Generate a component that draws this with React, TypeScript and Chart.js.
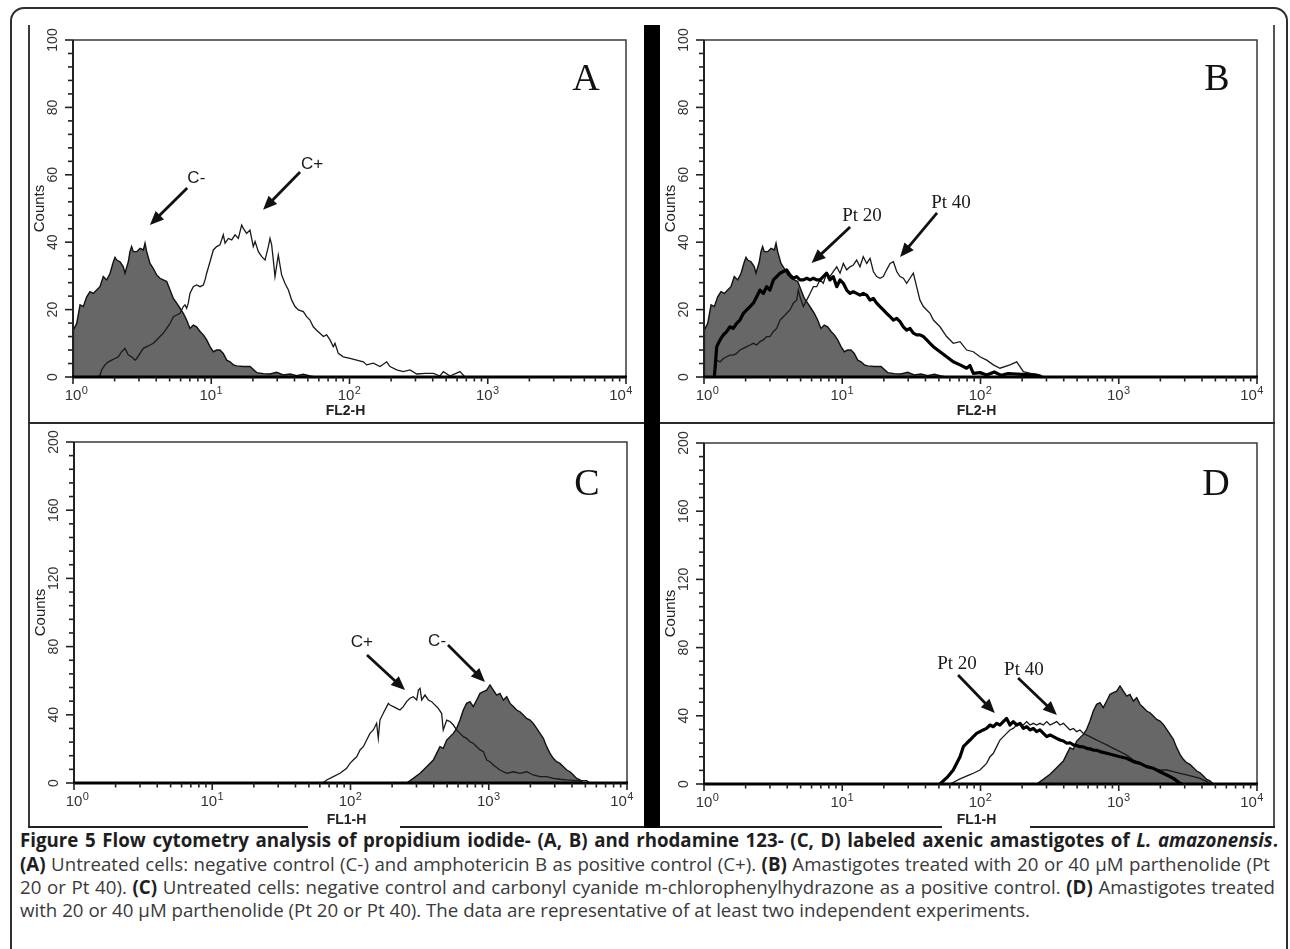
import React, { useEffect, useRef } from "react";
import { Chart, registerables } from "chart.js";
Chart.register(...registerables);

document.body.style.margin = "0";
document.body.style.overflow = "hidden";

// ---------- axis ticks ----------
const X_DECADE_EXPONENTS = [0, 1, 2, 3, 4];
const Y_TICKS_PI = [0, 20, 40, 60, 80, 100];
const Y_TICKS_RH = [0, 40, 80, 120, 160, 200];

// ---------- series: [log10(fluorescence), counts] ----------
// Propidium iodide (FL2-H)
const piNegative: [number, number][] = [
  [0.0, 0], [0.003, 14], [0.027, 15.9], [0.051, 21.4], [0.075, 20.9], [0.099, 23.8], [0.123, 25.3], [0.147, 24.8],
  [0.171, 25.8], [0.195, 26.8], [0.219, 29.8], [0.244, 28.8], [0.268, 30.8], [0.292, 34.2], [0.304, 35.5], [0.316, 34.7],
  [0.34, 34.2], [0.364, 32.7], [0.376, 30.8], [0.4, 34.2], [0.412, 37.2], [0.424, 38.7], [0.436, 37.2], [0.461, 37.2],
  [0.485, 38.2], [0.509, 37.7], [0.521, 39.7], [0.533, 37.2], [0.557, 33.7], [0.581, 32.2], [0.605, 30.3], [0.629, 29.3],
  [0.653, 28.8], [0.678, 28.3], [0.702, 25.8], [0.726, 23.3], [0.75, 21.9], [0.774, 20.4], [0.798, 18.9], [0.822, 16.9],
  [0.846, 14.4], [0.87, 15.4], [0.894, 14.9], [0.919, 13.5], [0.943, 12.5], [0.967, 11.0], [0.991, 9.0], [1.015, 7.5],
  [1.039, 8.0], [1.063, 8.0], [1.087, 7.0], [1.112, 5.0], [1.136, 4.5], [1.16, 3.6], [1.184, 3.3], [1.232, 3.1],
  [1.28, 3.1], [1.329, 1.3], [1.377, 1.0], [1.425, 0.9], [1.473, 1.4], [1.521, 0.6], [1.57, 0.9], [1.618, 0.4],
  [1.666, 0.8], [1.714, 0.3], [1.75, 0],
];
const piAmphotericin: [number, number][] = [
  [0.18, 0], [0.195, 0.5], [0.207, 2.1], [0.231, 3.6], [0.256, 4.5], [0.28, 5.0], [0.304, 5.5], [0.328, 6.0],
  [0.352, 7.5], [0.376, 8.5], [0.4, 6.5], [0.424, 6.0], [0.449, 5.0], [0.461, 5.5], [0.485, 7.0], [0.509, 8.5],
  [0.533, 9.0], [0.557, 9.5], [0.581, 10.0], [0.605, 11.0], [0.629, 12.0], [0.653, 13.0], [0.678, 14.4], [0.702, 15.9],
  [0.726, 17.9], [0.75, 18.4], [0.774, 18.9], [0.798, 20.9], [0.81, 21.4], [0.822, 20.4], [0.834, 21.9], [0.846, 24.8],
  [0.87, 26.8], [0.894, 27.3], [0.919, 26.8], [0.943, 27.3], [0.955, 28.8], [0.967, 30.8], [0.991, 34.2], [1.015, 37.7],
  [1.039, 38.7], [1.063, 39.2], [1.087, 42.2], [1.1, 39.7], [1.124, 41.1], [1.148, 40.7], [1.172, 42.2], [1.196, 41.1],
  [1.22, 45.1], [1.232, 44.1], [1.256, 42.6], [1.28, 43.6], [1.304, 38.7], [1.317, 40.2], [1.341, 37.2], [1.365, 35.7],
  [1.389, 34.7], [1.413, 38.7], [1.425, 41.1], [1.437, 39.2], [1.449, 34.7], [1.461, 29.8], [1.485, 36.2], [1.509, 30.3],
  [1.533, 27.8], [1.558, 25.8], [1.582, 22.8], [1.606, 20.9], [1.63, 19.9], [1.666, 19.4], [1.69, 17.9], [1.714, 16.9],
  [1.738, 14.9], [1.762, 13.9], [1.786, 13.0], [1.811, 12.0], [1.835, 12.5], [1.859, 11.0], [1.883, 9.0], [1.895, 10.0],
  [1.919, 7.0], [1.955, 6.0], [2.004, 5.5], [2.052, 5.0], [2.1, 4.5], [2.124, 3.6], [2.172, 4.1], [2.221, 3.1],
  [2.269, 4.5], [2.293, 3.1], [2.341, 2.1], [2.389, 1.6], [2.438, 2.1], [2.486, 0.9], [2.55, 1.1], [2.607, 1.1],
  [2.654, 0.3], [2.679, 1.6], [2.727, 0.3], [2.799, 1.6], [2.835, 0],
];
const piPt20: [number, number][] = [
  [0.075, 0], [0.092, 9.0], [0.116, 11.0], [0.14, 12.5], [0.164, 13.5], [0.188, 14.9], [0.212, 14.4], [0.236, 15.9],
  [0.26, 16.9], [0.285, 18.9], [0.309, 19.9], [0.333, 20.9], [0.357, 21.9], [0.381, 23.8], [0.405, 25.8], [0.429, 24.8],
  [0.453, 26.8], [0.477, 25.8], [0.502, 28.8], [0.526, 29.8], [0.55, 30.8], [0.574, 31.3], [0.598, 31.8], [0.622, 30.3],
  [0.646, 29.3], [0.67, 29.8], [0.694, 28.8], [0.719, 28.8], [0.743, 29.3], [0.767, 28.8], [0.791, 29.3], [0.815, 28.8],
  [0.839, 28.8], [0.863, 29.8], [0.887, 30.8], [0.911, 28.8], [0.935, 29.8], [0.96, 26.8], [0.984, 28.8], [1.008, 27.8],
  [1.032, 25.8], [1.056, 24.8], [1.08, 25.3], [1.104, 24.8], [1.128, 24.3], [1.152, 24.8], [1.177, 24.3], [1.201, 22.8],
  [1.225, 23.3], [1.249, 21.9], [1.273, 20.9], [1.297, 19.9], [1.321, 18.9], [1.346, 17.9], [1.37, 16.9], [1.394, 17.4],
  [1.418, 16.4], [1.442, 14.9], [1.466, 13.9], [1.49, 14.4], [1.514, 13.0], [1.538, 12.5], [1.562, 12.5], [1.587, 12.0],
  [1.611, 11.0], [1.635, 10.0], [1.659, 9.0], [1.707, 7.5], [1.755, 6.0], [1.803, 4.5], [1.852, 3.6], [1.9, 2.6],
  [1.924, 3.4], [1.948, 1.1], [1.996, 1.3], [2.045, 0.6], [2.1, 1.5], [2.15, 0.5], [2.2, 1.0], [2.3, 0.8],
  [2.4, 0.6], [2.43, 0],
];
const piPt40: [number, number][] = [
  [0.075, 0], [0.092, 5.0], [0.116, 4.5], [0.14, 5.5], [0.164, 6.0], [0.188, 6.5], [0.212, 6.5], [0.236, 7.0],
  [0.26, 8.0], [0.285, 8.5], [0.309, 9.0], [0.333, 9.5], [0.357, 10.0], [0.381, 9.5], [0.405, 10.5], [0.429, 11.0],
  [0.453, 12.0], [0.477, 12.0], [0.502, 13.5], [0.526, 14.4], [0.55, 16.9], [0.574, 17.9], [0.598, 18.9], [0.622, 19.9],
  [0.646, 21.9], [0.67, 22.8], [0.682, 25.8], [0.694, 23.8], [0.719, 20.9], [0.743, 22.8], [0.767, 24.8], [0.791, 26.8],
  [0.815, 26.8], [0.839, 28.8], [0.863, 27.8], [0.887, 30.8], [0.911, 29.8], [0.935, 31.3], [0.96, 32.7], [0.984, 30.8],
  [1.008, 33.7], [1.032, 31.8], [1.056, 32.7], [1.08, 33.2], [1.104, 34.7], [1.128, 32.7], [1.152, 35.7], [1.177, 33.7],
  [1.201, 35.2], [1.225, 31.3], [1.249, 29.8], [1.273, 29.3], [1.297, 29.8], [1.321, 31.8], [1.346, 33.7], [1.37, 34.2],
  [1.394, 31.3], [1.418, 29.8], [1.442, 29.3], [1.466, 27.8], [1.49, 29.3], [1.514, 30.8], [1.538, 26.8], [1.562, 22.8],
  [1.587, 20.9], [1.611, 19.9], [1.635, 18.9], [1.659, 16.9], [1.707, 14.9], [1.755, 12.0], [1.803, 10.0], [1.852, 10.5],
  [1.9, 8.0], [1.948, 7.5], [1.996, 6.0], [2.045, 5.0], [2.093, 3.6], [2.141, 2.6], [2.213, 3.6], [2.262, 4.5],
  [2.31, 1.6], [2.37, 1.0], [2.43, 0.6], [2.46, 0],
];

// Rhodamine 123 (FL1-H)
const rhNegative: [number, number][] = [
  [2.406, 0], [2.454, 2.7], [2.503, 5.7], [2.551, 9.6], [2.599, 13.5], [2.623, 17.4], [2.647, 21.3], [2.671, 20.3],
  [2.696, 25.2], [2.72, 27.2], [2.744, 29.1], [2.768, 32.1], [2.792, 36.9], [2.816, 42.8], [2.84, 46.7], [2.864, 47.7],
  [2.888, 44.8], [2.913, 48.7], [2.937, 52.6], [2.961, 53.6], [2.985, 54.5], [3.009, 57.5], [3.033, 54.5], [3.057, 51.6],
  [3.081, 52.6], [3.106, 48.7], [3.13, 50.6], [3.154, 46.7], [3.178, 44.8], [3.202, 42.8], [3.226, 41.8], [3.25, 39.9],
  [3.274, 37.9], [3.299, 36.9], [3.322, 35.0], [3.347, 32.1], [3.371, 29.1], [3.395, 26.2], [3.419, 21.3], [3.443, 17.4],
  [3.467, 14.5], [3.491, 12.5], [3.515, 11.5], [3.54, 9.6], [3.564, 7.6], [3.588, 6.6], [3.612, 4.7], [3.636, 2.7],
  [3.66, 1.8], [3.685, 0],
];
const rhCccp: [number, number][] = [
  [1.8, 0], [1.828, 1.8], [1.876, 3.7], [1.924, 5.7], [1.972, 8.6], [1.996, 11.5], [2.02, 13.5], [2.045, 15.4],
  [2.069, 19.4], [2.093, 21.3], [2.117, 25.2], [2.141, 29.1], [2.165, 31.1], [2.189, 35.0], [2.201, 26.2], [2.213, 36.9],
  [2.237, 40.9], [2.262, 44.8], [2.274, 46.7], [2.286, 45.7], [2.31, 44.8], [2.334, 43.8], [2.358, 42.8], [2.382, 44.8],
  [2.406, 47.7], [2.43, 49.7], [2.454, 50.6], [2.479, 48.7], [2.491, 54.5], [2.503, 55.5], [2.515, 48.7], [2.539, 51.6],
  [2.563, 48.7], [2.587, 47.7], [2.611, 45.7], [2.635, 43.8], [2.659, 40.9], [2.671, 31.1], [2.696, 36.9], [2.72, 36.0],
  [2.744, 34.0], [2.768, 31.1], [2.792, 29.1], [2.816, 27.2], [2.84, 26.2], [2.864, 24.2], [2.888, 23.3], [2.913, 21.3],
  [2.937, 19.4], [2.961, 18.4], [2.985, 13.5], [3.009, 12.5], [3.033, 10.6], [3.081, 7.6], [3.13, 5.7], [3.178, 6.6],
  [3.226, 5.7], [3.274, 6.6], [3.322, 4.7], [3.371, 3.7], [3.419, 3.7], [3.467, 2.7], [3.515, 2.2], [3.564, 1.8],
  [3.636, 1.4], [3.708, 1.4], [3.732, 0],
];
const rhPt20: [number, number][] = [
  [1.707, 0], [1.76, 4.0], [1.803, 8.2], [1.852, 16.0], [1.876, 21.9], [1.9, 23.9], [1.924, 25.8], [1.948, 27.8],
  [1.972, 29.7], [1.996, 30.7], [2.02, 31.7], [2.044, 32.6], [2.069, 34.6], [2.093, 33.6], [2.117, 35.6], [2.141, 34.6],
  [2.165, 36.6], [2.189, 38.5], [2.213, 34.6], [2.237, 36.6], [2.262, 34.6], [2.286, 35.6], [2.31, 32.6], [2.334, 33.6],
  [2.358, 31.7], [2.382, 32.6], [2.406, 30.7], [2.43, 31.7], [2.455, 29.7], [2.479, 27.8], [2.503, 28.7], [2.527, 27.8],
  [2.551, 26.8], [2.575, 25.8], [2.6, 25.2], [2.624, 23.9], [2.648, 24.2], [2.672, 22.9], [2.696, 22.6], [2.72, 21.9],
  [2.744, 21.8], [2.768, 20.9], [2.792, 20.6], [2.816, 19.9], [2.84, 19.8], [2.865, 19.0], [2.913, 18.0], [2.961, 17.0],
  [3.009, 16.0], [3.057, 15.1], [3.106, 13.1], [3.154, 12.1], [3.202, 10.2], [3.25, 9.2], [3.299, 7.2], [3.347, 5.3],
  [3.395, 3.3], [3.443, 0.4], [3.46, 0],
];
const rhPt40: [number, number][] = [
  [1.78, 0], [1.852, 3.0], [1.924, 5.5], [1.948, 6.3], [1.996, 8.2], [2.044, 12.1], [2.069, 16.0], [2.093, 18.0],
  [2.117, 21.9], [2.141, 25.8], [2.165, 27.8], [2.189, 29.7], [2.213, 31.7], [2.237, 32.6], [2.262, 34.6], [2.286, 35.6],
  [2.31, 34.6], [2.334, 36.6], [2.358, 34.6], [2.382, 35.6], [2.406, 34.6], [2.43, 35.6], [2.455, 34.6], [2.479, 36.6],
  [2.503, 34.6], [2.527, 35.6], [2.551, 36.6], [2.575, 34.6], [2.6, 35.6], [2.624, 33.6], [2.648, 31.7], [2.672, 32.6],
  [2.696, 30.7], [2.72, 31.7], [2.744, 29.7], [2.768, 28.7], [2.792, 27.8], [2.816, 26.8], [2.865, 24.8], [2.913, 22.9],
  [2.961, 20.9], [3.009, 19.0], [3.057, 17.0], [3.106, 14.1], [3.154, 12.1], [3.202, 10.2], [3.25, 9.2], [3.299, 8.2],
  [3.347, 8.2], [3.395, 7.2], [3.443, 6.3], [3.492, 5.3], [3.54, 4.3], [3.588, 3.3], [3.636, 1.4], [3.661, 0],
];

// ---------- panel specs ----------
type SeriesStyle = "fill" | "thin" | "thick";
interface Label { text: string; x: number; y: number; serif: boolean; size: number }
interface ArrowSpec { from: [number, number]; to: [number, number] }
interface PanelSpec {
  letter: string; letterAt: [number, number];
  left: number; top: number; width: number; height: number;
  padding: { left: number; top: number; right: number; bottom: number };
  yTicks: number[]; yMax: number;
  xLabel: string; xLabelDy: number;
  series: { points: [number, number][]; style: SeriesStyle }[];
  labels: Label[]; arrows: ArrowSpec[];
}

const PANELS: PanelSpec[] = [
  {
    letter: "A", letterAt: [5140, 89],
    left: 31, top: 27, width: 612, height: 395,
    padding: { left: 42, top: 13, right: 17, bottom: 45 },
    yTicks: Y_TICKS_PI, yMax: 100, xLabel: "FL2-H", xLabelDy: 34,
    series: [
      { points: piAmphotericin, style: "thin" },
      { points: piNegative, style: "fill" },
    ],
    labels: [
      { text: "C-", x: 7.8, y: 59.3, serif: false, size: 17 },
      { text: "C+", x: 53.6, y: 63.5, serif: false, size: 17 },
    ],
    arrows: [
      { from: [6.7, 56.1], to: [3.6, 45.1] },
      { from: [43.9, 60.8], to: [23.7, 49.6] },
    ],
  },
  {
    letter: "B", letterAt: [5140, 89],
    left: 660, top: 27, width: 613, height: 395,
    padding: { left: 44, top: 13, right: 16, bottom: 45 },
    yTicks: Y_TICKS_PI, yMax: 100, xLabel: "FL2-H", xLabelDy: 34,
    series: [
      { points: piPt20, style: "thick" },
      { points: piPt40, style: "thin" },
      { points: piNegative, style: "fill" },
    ],
    labels: [
      { text: "Pt 20", x: 13.9, y: 48.1, serif: true, size: 19 },
      { text: "Pt 40", x: 61.2, y: 51.9, serif: true, size: 19 },
    ],
    arrows: [
      { from: [11.4, 44.5], to: [6.0, 33.8] },
      { from: [48.5, 48.7], to: [26.2, 35.6] },
    ],
  },
  {
    letter: "C", letterAt: [5140, 176.5],
    left: 31, top: 424, width: 612, height: 402,
    padding: { left: 43, top: 18, right: 16, bottom: 43 },
    yTicks: Y_TICKS_RH, yMax: 200, xLabel: "FL1-H", xLabelDy: 37,
    series: [
      { points: rhCccp, style: "thin" },
      { points: rhNegative, style: "fill" },
    ],
    labels: [
      { text: "C+", x: 121, y: 83.3, serif: false, size: 17 },
      { text: "C-", x: 423, y: 83.9, serif: false, size: 17 },
    ],
    arrows: [
      { from: [131.6, 75.1], to: [248, 54.5] },
      { from: [507, 80.9], to: [939, 59.2] },
    ],
  },
  {
    letter: "D", letterAt: [5050, 177],
    left: 660, top: 424, width: 613, height: 402,
    padding: { left: 44, top: 19, right: 16, bottom: 42 },
    yTicks: Y_TICKS_RH, yMax: 200, xLabel: "FL1-H", xLabelDy: 36,
    series: [
      { points: rhPt20, style: "thick" },
      { points: rhPt40, style: "thin" },
      { points: rhNegative, style: "fill" },
    ],
    labels: [
      { text: "Pt 20", x: 67.6, y: 71.0, serif: true, size: 19 },
      { text: "Pt 40", x: 206, y: 67.4, serif: true, size: 19 },
    ],
    arrows: [
      { from: [68.8, 63.9], to: [127, 41.6] },
      { from: [187, 62.2], to: [357, 40.5] },
    ],
  },
];

const SANS = "'Liberation Sans', Arial, sans-serif";
const SERIF = "'Liberation Serif', 'Times New Roman', serif";

function makeDecor(spec: PanelSpec) {
  return {
    id: "decor" + spec.letter,
    afterDatasetsDraw(chart: any) {
      const { ctx, chartArea } = chart;
      const { left, right, top, bottom } = chartArea;
      const xs = chart.scales.x;
      const ys = chart.scales.y;
      ctx.save();

      // frame top / right
      ctx.strokeStyle = "#3a3a3a";
      ctx.lineWidth = 1.5;
      ctx.beginPath();
      ctx.moveTo(left, top);
      ctx.lineTo(right, top);
      ctx.lineTo(right, bottom);
      ctx.stroke();

      // left axis
      ctx.strokeStyle = "#222";
      ctx.lineWidth = 2;
      ctx.beginPath();
      ctx.moveTo(left, top);
      ctx.lineTo(left, bottom);
      ctx.stroke();

      // y ticks (major + 4 minor between)
      const step = spec.yTicks[1] - spec.yTicks[0];
      ctx.lineWidth = 1.6;
      for (let i = 0; i < spec.yTicks.length; i++) {
        const v = spec.yTicks[i];
        const py = ys.getPixelForValue(v);
        ctx.beginPath();
        ctx.moveTo(left - 8, py);
        ctx.lineTo(left, py);
        ctx.stroke();
        if (i < spec.yTicks.length - 1) {
          for (let k = 1; k < 5; k++) {
            const pm = ys.getPixelForValue(v + (step * k) / 5);
            ctx.beginPath();
            ctx.moveTo(left - 5, pm);
            ctx.lineTo(left, pm);
            ctx.stroke();
          }
        }
      }
      // y tick labels (rotated)
      ctx.fillStyle = "#333";
      ctx.font = `14px ${SANS}`;
      ctx.textAlign = "center";
      ctx.textBaseline = "middle";
      for (const v of spec.yTicks) {
        const py = ys.getPixelForValue(v);
        ctx.save();
        ctx.translate(left - 20, py);
        ctx.rotate(-Math.PI / 2);
        ctx.fillText(String(v), 0, 0);
        ctx.restore();
      }

      // bottom axis
      ctx.strokeStyle = "#000";
      ctx.lineWidth = 3;
      ctx.beginPath();
      ctx.moveTo(left - 1, bottom);
      ctx.lineTo(right + 1, bottom);
      ctx.stroke();

      // x ticks
      ctx.strokeStyle = "#222";
      ctx.lineWidth = 1.6;
      for (const e of X_DECADE_EXPONENTS) {
        const base = Math.pow(10, e);
        const px = xs.getPixelForValue(base);
        ctx.beginPath();
        ctx.moveTo(px, bottom);
        ctx.lineTo(px, bottom + 7);
        ctx.stroke();
        if (e < 4) {
          for (let k = 2; k <= 9; k++) {
            const pm = xs.getPixelForValue(k * base);
            ctx.beginPath();
            ctx.moveTo(pm, bottom);
            ctx.lineTo(pm, bottom + 4.5);
            ctx.stroke();
          }
        }
      }
      // x tick labels 10^n
      ctx.fillStyle = "#333";
      ctx.textBaseline = "alphabetic";
      for (const e of X_DECADE_EXPONENTS) {
        const px = xs.getPixelForValue(Math.pow(10, e));
        const shift = e === 0 ? 0 : e === 4 ? -8.5 : -3.5;
        const cx = px + shift;
        ctx.font = `15px ${SANS}`;
        ctx.textAlign = "center";
        ctx.fillText("10", cx, bottom + 23);
        const w = ctx.measureText("10").width;
        ctx.font = `11px ${SANS}`;
        ctx.textAlign = "left";
        ctx.fillText(String(e), cx + w / 2 + 0.5, bottom + 17);
      }

      // axis titles
      ctx.fillStyle = "#222";
      ctx.font = `15px ${SANS}`;
      ctx.textAlign = "center";
      ctx.textBaseline = "middle";
      ctx.save();
      ctx.translate(left - 33, (top + bottom) / 2);
      ctx.rotate(-Math.PI / 2);
      ctx.fillText("Counts", 0, 0);
      ctx.restore();
      ctx.font = `bold 14px ${SANS}`;
      ctx.fillText(spec.xLabel, (left + right) / 2 - 4, bottom + spec.xLabelDy);

      // panel letter
      ctx.fillStyle = "#111";
      ctx.font = `38px ${SERIF}`;
      ctx.textBaseline = "alphabetic";
      ctx.fillText(
        spec.letter,
        xs.getPixelForValue(spec.letterAt[0]),
        ys.getPixelForValue(spec.letterAt[1]) + 38 * 0.33
      );

      // labels
      for (const lb of spec.labels) {
        ctx.font = `${lb.size}px ${lb.serif ? SERIF : SANS}`;
        ctx.fillStyle = "#1a1a1a";
        const capHalf = lb.size * (lb.serif ? 0.33 : 0.36);
        ctx.fillText(lb.text, xs.getPixelForValue(lb.x), ys.getPixelForValue(lb.y) + capHalf);
      }

      // arrows
      ctx.strokeStyle = "#111";
      ctx.fillStyle = "#111";
      for (const a of spec.arrows) {
        const x1 = xs.getPixelForValue(a.from[0]);
        const y1 = ys.getPixelForValue(a.from[1]);
        const x2 = xs.getPixelForValue(a.to[0]);
        const y2 = ys.getPixelForValue(a.to[1]);
        const ang = Math.atan2(y2 - y1, x2 - x1);
        const hl = 14, hw = 6;
        const bx = x2 - hl * Math.cos(ang);
        const by = y2 - hl * Math.sin(ang);
        ctx.lineWidth = 2.8;
        ctx.beginPath();
        ctx.moveTo(x1, y1);
        ctx.lineTo(bx + 2 * Math.cos(ang), by + 2 * Math.sin(ang));
        ctx.stroke();
        ctx.beginPath();
        ctx.moveTo(x2, y2);
        ctx.lineTo(bx + hw * Math.sin(ang), by - hw * Math.cos(ang));
        ctx.lineTo(bx - hw * Math.sin(ang), by + hw * Math.cos(ang));
        ctx.closePath();
        ctx.fill();
      }
      ctx.restore();
    },
  };
}

function Panel({ spec }: { spec: PanelSpec }) {
  const ref = useRef<HTMLCanvasElement>(null);
  useEffect(() => {
    const datasets = spec.series.map((s) => {
      const data = s.points.map(([l, c]) => ({ x: Math.pow(10, l), y: c }));
      if (s.style === "fill") {
        return {
          data, fill: "origin", backgroundColor: "#676767", borderColor: "#111",
          borderWidth: 1.4, pointRadius: 0, order: 10,
        };
      }
      if (s.style === "thick") {
        return {
          data, fill: false, borderColor: "#000", borderWidth: 3.2, pointRadius: 0,
          order: 1, borderJoinStyle: "round" as const,
        };
      }
      return {
        data, fill: false, borderColor: "#1a1a1a", borderWidth: 1.3, pointRadius: 0, order: 2,
      };
    });
    const chart = new Chart(ref.current!, {
      type: "line",
      data: { datasets: datasets as any },
      options: {
        animation: false,
        responsive: false,
        maintainAspectRatio: false,
        events: [],
        layout: { padding: spec.padding },
        plugins: { legend: { display: false }, tooltip: { enabled: false } },
        elements: { line: { tension: 0 }, point: { radius: 0 } },
        scales: {
          x: { type: "logarithmic", min: 1, max: 10000, display: false },
          y: { type: "linear", min: 0, max: spec.yMax, display: false },
        },
      },
      plugins: [makeDecor(spec)],
    });
    return () => chart.destroy();
  }, [spec]);
  return (
    <canvas
      ref={ref}
      width={spec.width}
      height={spec.height}
      style={{ position: "absolute", left: spec.left, top: spec.top, width: spec.width, height: spec.height }}
    />
  );
}

// widths of the 4 caption lines (justified paragraph; last line ragged)
const CAPTION_TARGET_WIDTHS = [1258, 1250, 1255, 1010];

function Caption() {
  const refs = useRef<(HTMLSpanElement | null)[]>([]);
  useEffect(() => {
    const fit = () => {
      const els = refs.current;
      if (els.some((e) => !e)) return;
      els.forEach((el) => {
        el!.style.transform = "none";
        el!.style.wordSpacing = "0px";
      });
      const wLast = els[3]!.getBoundingClientRect().width;
      if (!wLast) return;
      const s = CAPTION_TARGET_WIDTHS[3] / wLast;
      els.forEach((el, i) => {
        if (i < 3) {
          const w = el!.getBoundingClientRect().width;
          const n = ((el!.textContent || "").match(/ /g) || []).length;
          const extra = CAPTION_TARGET_WIDTHS[i] / s - w;
          if (n > 0) el!.style.wordSpacing = `${extra / n}px`;
        }
        el!.style.transform = `scaleX(${s})`;
      });
    };
    fit();
    (document as any).fonts?.ready?.then(fit);
  }, []);
  const lineStyle = (top: number): React.CSSProperties => ({
    position: "absolute", left: 20, top, whiteSpace: "nowrap", display: "inline-block",
    transformOrigin: "0 0", fontFamily: "'Open Sans', 'Noto Sans', sans-serif", fontSize: 19,
    lineHeight: "23px", color: "#3a3a3a",
  });
  const b: React.CSSProperties = { fontWeight: 700, color: "#1e1e1e" };
  return (
    <>
      <span ref={(e) => { refs.current[0] = e; }} style={{ ...lineStyle(829), fontWeight: 700, color: "#1e1e1e" }}>
        Figure 5 Flow cytometry analysis of propidium iodide- (A, B) and rhodamine 123- (C, D) labeled axenic amastigotes of <i>L. amazonensis</i>.
      </span>
      <span ref={(e) => { refs.current[1] = e; }} style={lineStyle(853)}>
        <span style={b}>(A)</span> Untreated cells: negative control (C-) and amphotericin B as positive control (C+). <span style={b}>(B)</span> Amastigotes treated with 20 or 40 µM parthenolide (Pt
      </span>
      <span ref={(e) => { refs.current[2] = e; }} style={lineStyle(876)}>
        20 or Pt 40). <span style={b}>(C)</span> Untreated cells: negative control and carbonyl cyanide m-chlorophenylhydrazone as a positive control. <span style={b}>(D)</span> Amastigotes treated
      </span>
      <span ref={(e) => { refs.current[3] = e; }} style={lineStyle(899)}>
        with 20 or 40 µM parthenolide (Pt 20 or Pt 40). The data are representative of at least two independent experiments.
      </span>
    </>
  );
}

export default function App() {
  const abs = (l: number, t: number, w: number, h: number, bg: string): React.CSSProperties => ({
    position: "absolute", left: l, top: t, width: w, height: h, background: bg,
  });
  return (
    <div style={{ position: "relative", width: 1290, height: 949, overflow: "hidden", background: "#fff" }}>
      <div
        style={{
          position: "absolute", left: 10, top: 7, width: 1278, height: 1000, boxSizing: "border-box",
          border: "2px solid #2e2e2e", borderRadius: 14,
        }}
      />
      {PANELS.map((p) => (
        <Panel key={p.letter} spec={p} />
      ))}
      {/* figure frame lines */}
      <div style={abs(28, 25, 2, 803, "#3a3a3a")} />
      <div style={abs(1273, 25, 2, 803, "#555")} />
      <div style={abs(28, 422, 1247, 2, "#2a2a2a")} />
      <div style={abs(28, 826, 280, 2, "#222")} />
      <div style={abs(400, 826, 244, 2, "#222")} />
      <div style={abs(660, 826, 282, 2, "#222")} />
      <div style={abs(1030, 826, 245, 2, "#222")} />
      <div style={abs(644, 25, 16, 803, "#000")} />
      <Caption />
    </div>
  );
}
